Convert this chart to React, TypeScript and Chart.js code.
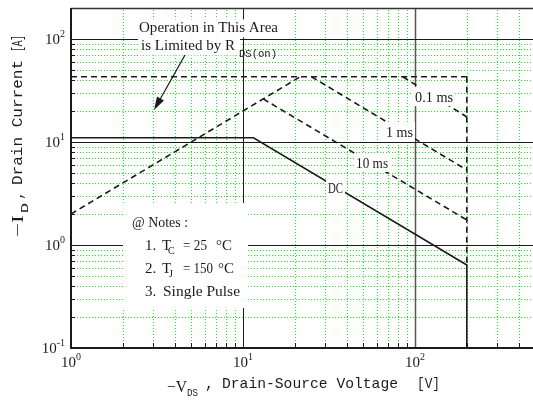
import React, { useEffect, useRef } from 'react';
import { Chart, registerables } from 'chart.js';

Chart.register(...registerables);

// ---------------- data ----------------
const dcVoltage = [1, 11.5, 200, 200];
const dcCurrent = [11, 11, 0.64, 0.1];
const rdsLimitVoltage = [1, 21.5];
const rdsLimitCurrent = [2, 43];
const pulseLimitVoltage = [1, 200];
const pulseLimitCurrent = [43, 43];
const t01msVoltage = [85, 200];
const t01msCurrent = [43, 17.5];
const t1msVoltage = [25, 200];
const t1msCurrent = [43, 5.35];
const t10msVoltage = [13.1, 200];
const t10msCurrent = [26.2, 1.75];
const bvLimitVoltage = [200, 200];
const bvLimitCurrent = [43, 0.64];

const xMajor = [1, 10, 100];
const xMajorExp = ['0', '1', '2'];
const yMajor = [0.1, 1, 10, 100];
const yMajorExp = ['-1', '0', '1', '2'];
const xMinor = [2, 3, 4, 5, 6, 7, 8, 9, 20, 30, 40, 50, 60, 70, 80, 90, 200, 300, 400];
const yMinor = [0.2, 0.3, 0.4, 0.5, 0.6, 0.7, 0.8, 0.9, 2, 3, 4, 5, 6, 7, 8, 9, 20, 30, 40, 50, 60, 70, 80, 90];

const curveLabels = ['0.1 ms', '1 ms', '10 ms', 'DC'];
const curveLabelVoltage = [100, 67.8, 45.4, 31.2];
const curveLabelCurrent = [24.4, 11.18, 5.59, 3.2];
const curveLabelWidth = [38, 27, 32, 15];

const noteLines = ['@ Notes :', '1.', '2.', '3.'];

// ---------------- styles ----------------
const INK = '#1a1a1a';
const GREEN = '#14f014';
const SERIF = '"Liberation Serif", "DejaVu Serif", serif';
const MONO = '"Liberation Mono", "DejaVu Sans Mono", monospace';

// annotation anchors (data units)
const rdsAnchor = { v: 2.485, i: 116 };
const arrowFrom = { v: 4.6, i: 69.9 };
const arrowTo = { v: 3.04, i: 20.5 };
const notesTopLeft = { v: 2.006, i: 2.557 };

const zip = (xs: number[], ys: number[]) => xs.map((x, k) => ({ x, y: ys[k] }));

function fitText(ctx: CanvasRenderingContext2D, text: string, x: number, y: number, width?: number) {
  if (!width) {
    ctx.fillText(text, x, y);
    return ctx.measureText(text).width;
  }
  const w = ctx.measureText(text).width;
  ctx.save();
  ctx.translate(x, y);
  ctx.scale(width / w, 1);
  ctx.fillText(text, 0, 0);
  ctx.restore();
  return width;
}

function drawPow(ctx: CanvasRenderingContext2D, exp: string, x: number, baseline: number, align: 'right' | 'center') {
  ctx.font = `15px ${SERIF}`;
  const w1 = ctx.measureText('10').width;
  ctx.font = `10px ${SERIF}`;
  const w2 = ctx.measureText(exp).width;
  const total = w1 + w2;
  const left = align === 'right' ? x - total : x - total / 2;
  ctx.font = `15px ${SERIF}`;
  ctx.fillText('10', left, baseline);
  ctx.font = `10px ${SERIF}`;
  ctx.fillText(exp, left + w1, baseline - 7);
}

const gridPlugin = {
  id: 'soaGrid',
  beforeDatasetsDraw(chart: any) {
    const { ctx, chartArea: a, scales } = chart;
    const xs = scales.x;
    const ys = scales.y;
    ctx.save();
    ctx.lineWidth = 1;
    // minor dotted
    ctx.strokeStyle = GREEN;
    ctx.setLineDash([1, 2]);
    xMinor.forEach((v) => {
      const p = Math.round(xs.getPixelForValue(v)) + 0.5;
      if (p > a.right) return;
      ctx.beginPath();
      ctx.moveTo(p, a.top + 2);
      ctx.lineTo(p, a.bottom);
      ctx.stroke();
    });
    yMinor.forEach((v) => {
      const p = Math.round(ys.getPixelForValue(v)) + 0.5;
      ctx.beginPath();
      ctx.moveTo(a.left, p);
      ctx.lineTo(a.right, p);
      ctx.stroke();
    });
    ctx.setLineDash([]);
    // major solid
    ctx.strokeStyle = INK;
    xMajor.forEach((v, k) => {
      if (v === xs.min) return;
      const p = Math.round(xs.getPixelForValue(v)) + 0.5;
      ctx.strokeStyle = k === 2 ? '#555' : INK;
      ctx.lineWidth = k === 2 ? 1.5 : 1;
      ctx.beginPath();
      ctx.moveTo(p, a.top);
      ctx.lineTo(p, a.bottom);
      ctx.stroke();
    });
    ctx.strokeStyle = INK;
    ctx.lineWidth = 1;
    yMajor.forEach((v) => {
      if (v === ys.min) return;
      const p = Math.round(ys.getPixelForValue(v)) + 0.5;
      ctx.beginPath();
      ctx.moveTo(a.left, p);
      ctx.lineTo(a.right, p);
      ctx.stroke();
    });
    // inner tick marks
    xMinor.forEach((v) => {
      const p = Math.round(xs.getPixelForValue(v)) + 0.5;
      ctx.beginPath();
      ctx.moveTo(p, a.bottom);
      ctx.lineTo(p, a.bottom - 5);
      ctx.stroke();
    });
    yMinor.forEach((v) => {
      const p = Math.round(ys.getPixelForValue(v)) + 0.5;
      ctx.beginPath();
      ctx.moveTo(a.left, p);
      ctx.lineTo(a.left + 4, p);
      ctx.stroke();
    });
    // frame
    ctx.strokeStyle = '#333';
    ctx.lineWidth = 1.5;
    ctx.beginPath();
    ctx.moveTo(a.left, a.top + 0.5);
    ctx.lineTo(a.right, a.top + 0.5);
    ctx.stroke();
    ctx.strokeStyle = INK;
    ctx.lineWidth = 2;
    ctx.beginPath();
    ctx.moveTo(a.left, a.top);
    ctx.lineTo(a.left, a.bottom);
    ctx.lineTo(a.right, a.bottom);
    ctx.stroke();
    ctx.restore();
  },
  afterDatasetsDraw(chart: any) {
    const { ctx, scales } = chart;
    const xs = scales.x;
    const ys = scales.y;
    const px = (v: number) => xs.getPixelForValue(v);
    const py = (v: number) => ys.getPixelForValue(v);
    ctx.save();
    ctx.textBaseline = 'alphabetic';
    ctx.textAlign = 'left';

    // curve labels
    curveLabels.forEach((t, k) => {
      const x = px(curveLabelVoltage[k]);
      const b = py(curveLabelCurrent[k]);
      const w = curveLabelWidth[k];
      ctx.fillStyle = '#fff';
      ctx.fillRect(x - 2, b - 15, w + 4, 19);
      ctx.fillStyle = INK;
      ctx.font = `14px ${SERIF}`;
      fitText(ctx, t, x, b, w);
    });

    // RDS(on) annotation
    const ax = px(rdsAnchor.v);
    const ab = py(rdsAnchor.i);
    ctx.fillStyle = '#fff';
    ctx.fillRect(ax - 4, ab - 13, 147, 18);
    ctx.fillRect(ax - 1, ab + 5, 102, 18);
    ctx.fillStyle = INK;
    ctx.font = `15px ${SERIF}`;
    fitText(ctx, 'Operation in This Area', ax, ab, 139);
    fitText(ctx, 'is Limited by R', ax + 2, ab + 17.7, 94);
    ctx.font = `10px ${MONO}`;
    fitText(ctx, 'DS(on)', ax + 100, ab + 24.7, 38);

    // arrow
    const x0 = px(arrowFrom.v), y0 = py(arrowFrom.i);
    const x1 = px(arrowTo.v), y1 = py(arrowTo.i);
    const ang = Math.atan2(y1 - y0, x1 - x0);
    ctx.strokeStyle = INK;
    ctx.lineWidth = 1.2;
    ctx.beginPath();
    ctx.moveTo(x0, y0);
    ctx.lineTo(x1 - 10 * Math.cos(ang), y1 - 10 * Math.sin(ang));
    ctx.stroke();
    ctx.beginPath();
    ctx.moveTo(x1, y1);
    ctx.lineTo(x1 - 13 * Math.cos(ang) + 4 * Math.sin(ang), y1 - 13 * Math.sin(ang) - 4 * Math.cos(ang));
    ctx.lineTo(x1 - 13 * Math.cos(ang) - 4 * Math.sin(ang), y1 - 13 * Math.sin(ang) + 4 * Math.cos(ang));
    ctx.closePath();
    ctx.fillStyle = INK;
    ctx.fill();

    // Notes box
    const nx = px(notesTopLeft.v);
    const ny = py(notesTopLeft.i);
    ctx.fillStyle = '#fff';
    ctx.fillRect(nx, ny, 125, 105);
    ctx.fillStyle = INK;
    ctx.font = `15px ${SERIF}`;
    fitText(ctx, noteLines[0], nx + 9, ny + 24, 56);
    // line 1
    fitText(ctx, noteLines[1], nx + 22, ny + 47);
    fitText(ctx, 'T', nx + 39, ny + 47);
    ctx.font = `10px ${SERIF}`;
    fitText(ctx, 'C', nx + 45, ny + 51);
    ctx.font = `15px ${SERIF}`;
    fitText(ctx, '= 25', nx + 60, ny + 47, 24);
    fitText(ctx, '°C', nx + 93, ny + 47);
    // line 2
    fitText(ctx, noteLines[2], nx + 22, ny + 70);
    fitText(ctx, 'T', nx + 39, ny + 70);
    ctx.font = `10px ${SERIF}`;
    fitText(ctx, 'J', nx + 46, ny + 74);
    ctx.font = `15px ${SERIF}`;
    fitText(ctx, '= 150', nx + 60, ny + 70, 30);
    fitText(ctx, '°C', nx + 95, ny + 70);
    // line 3
    fitText(ctx, noteLines[3], nx + 22, ny + 93);
    fitText(ctx, 'Single Pulse', nx + 40, ny + 93, 77);
    ctx.restore();
  },
  afterDraw(chart: any) {
    const { ctx, chartArea: a, scales } = chart;
    const xs = scales.x;
    const ys = scales.y;
    ctx.save();
    ctx.fillStyle = INK;
    ctx.textAlign = 'left';
    ctx.textBaseline = 'alphabetic';
    // tick labels
    yMajor.forEach((v, k) => {
      drawPow(ctx, yMajorExp[k], a.left - 6, ys.getPixelForValue(v) + 5, 'right');
    });
    xMajor.forEach((v, k) => {
      drawPow(ctx, xMajorExp[k], xs.getPixelForValue(v), a.bottom + 19, 'center');
    });

    // x title
    ctx.font = `16px ${SERIF}`;
    fitText(ctx, '\u2212V', 167, 392, 20);
    ctx.font = `10px ${MONO}`;
    fitText(ctx, 'DS', 187, 396, 11);
    ctx.font = `15px ${MONO}`;
    fitText(ctx, ',', 205, 388);
    fitText(ctx, 'Drain-Source Voltage', 222, 388, 176);
    fitText(ctx, '[V]', 417, 388, 23);

    // y title (rotated, reading upwards)
    const rot = (text: string, bx: number, sy: number, font: string, width?: number) => {
      ctx.save();
      ctx.translate(bx, sy);
      ctx.rotate(-Math.PI / 2);
      ctx.font = font;
      fitText(ctx, text, 0, 0, width);
      ctx.restore();
    };
    rot('\u2212I', 23, 237, `16px ${SERIF}`, 22);
    rot('D', 28, 213, `10px ${MONO}`, 10);
    rot(',', 22, 200, `15px ${MONO}`);
    rot('Drain Current', 22, 185, `15px ${MONO}`, 125);
    rot('[A]', 22, 52, `15px ${MONO}`, 17);
    ctx.restore();
  },
};

export default function App() {
  const ref = useRef<HTMLCanvasElement>(null);
  useEffect(() => {
    const solid = {
      borderColor: INK,
      backgroundColor: INK,
      borderWidth: 1.6,
      pointRadius: 0,
      showLine: true,
      fill: false,
      tension: 0,
    };
    const dashed = { ...solid, borderDash: [6, 4] };
    const chart = new Chart(ref.current as HTMLCanvasElement, {
      type: 'scatter',
      data: {
        datasets: [
          { label: 'DC', data: zip(dcVoltage, dcCurrent), ...solid },
          { label: 'RDS(on) limit', data: zip(rdsLimitVoltage, rdsLimitCurrent), ...dashed },
          { label: 'IDM limit', data: zip(pulseLimitVoltage, pulseLimitCurrent), ...dashed },
          { label: '0.1 ms', data: zip(t01msVoltage, t01msCurrent), ...dashed },
          { label: '1 ms', data: zip(t1msVoltage, t1msCurrent), ...dashed },
          { label: '10 ms', data: zip(t10msVoltage, t10msCurrent), ...dashed },
          { label: 'BVDSS limit', data: zip(bvLimitVoltage, bvLimitCurrent), ...dashed },
        ] as any,
      },
      options: {
        responsive: false,
        maintainAspectRatio: false,
        animation: false,
        devicePixelRatio: 1,
        layout: { padding: { top: 8, left: 0, right: 0, bottom: 0 } },
        plugins: { legend: { display: false }, tooltip: { enabled: false } },
        scales: {
          x: {
            type: 'logarithmic',
            min: 1,
            max: 485,
            grid: { display: false, drawTicks: false },
            border: { display: false },
            ticks: { display: false },
            afterFit: (s: any) => {
              s.height = 52;
            },
          },
          y: {
            type: 'logarithmic',
            min: 0.1,
            max: 200,
            grid: { display: false, drawTicks: false },
            border: { display: false },
            ticks: { display: false },
            afterFit: (s: any) => {
              s.width = 71;
            },
          },
        },
      } as any,
      plugins: [gridPlugin],
    });
    return () => chart.destroy();
  }, []);
  return (
    <div style={{ position: 'fixed', left: 0, top: 0, width: 533, height: 400, background: '#fff' }}>
      <canvas ref={ref} width={533} height={400} style={{ display: 'block', width: 533, height: 400 }} />
    </div>
  );
}
